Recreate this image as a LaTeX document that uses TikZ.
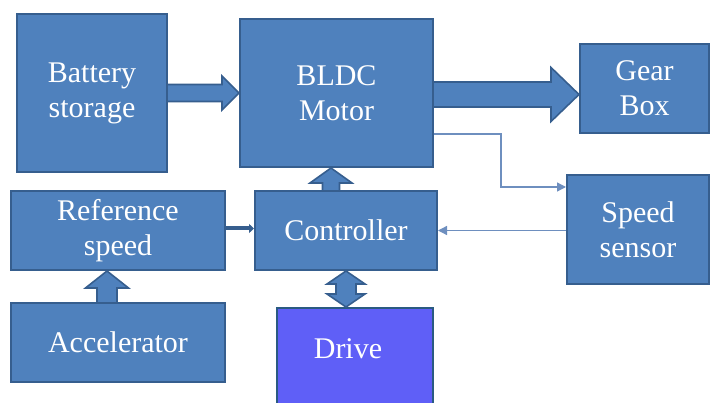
\documentclass[tikz,border=0pt]{standalone}
\usepackage{fontspec}
\setmainfont{Liberation Serif}
\usetikzlibrary{calc,arrows.meta}
\definecolor{boxfill}{HTML}{4F81BD}
\definecolor{boxline}{HTML}{365E8E}
\definecolor{drvfill}{HTML}{5F5FF7}
\definecolor{drvline}{HTML}{2A5A82}
\definecolor{thinline}{HTML}{6E8FBF}
\tikzset{
  box/.style={draw=boxline, fill=boxfill, line width=2pt, text=white, align=center,
    font=\fontsize{30}{35}\selectfont, inner sep=0pt},
  drivebox/.style={box, fill=drvfill, draw=drvline},
  txt/.style={text=white, font=\fontsize{30}{35}\selectfont, inner sep=0pt},
  barrow/.style={fill=boxfill, draw=boxline, line width=1.6pt, line join=miter},
  thinarrow/.style={draw=thinline, line width=1.3pt, -{Triangle[length=9pt,width=9pt]}},
  refarrow/.style={draw=boxline, line width=4pt, -{Triangle[length=5pt,width=9pt]}},
}
\begin{document}
\begin{tikzpicture}[x=1pt,y=-1pt]
\useasboundingbox (0,0) rectangle (713,403);
\clip (0,0) rectangle (713,403);
% boxes
\node[box, minimum width=150, minimum height=158] (bat) at (92,93) {Battery\\storage};
\node[box, minimum width=193, minimum height=148] (mot) at (336.5,93) {BLDC\\Motor};
\node[box, minimum width=129, minimum height=89] (gear) at (644.5,88.5) {Gear\\Box};
\node[box, minimum width=142, minimum height=109] (sen) at (638,229.5) {Speed\\sensor};
\node[box, minimum width=182, minimum height=79] (ctl) at (346,230.5) {Controller};
\node[box, minimum width=214, minimum height=79] (ref) at (118,230.5) {Reference\\speed};
\node[box, minimum width=214, minimum height=79] (acc) at (118,342.5) {Accelerator};
\node[drivebox, minimum width=156, minimum height=110] (drv) at (355,363) {};
\node[txt] (drvtext) at (348,349) {Drive};

% battery -> motor
\coordinate (s1) at (bat.east);
\coordinate (e1) at (bat.east -| mot.west);
\filldraw[barrow] ($(s1)+(0,-8.5)$) -- ($(e1)+(-17,-8.5)$) -- ($(e1)+(-17,-17)$) -- (e1)
  -- ($(e1)+(-17,17)$) -- ($(e1)+(-17,8.5)$) -- ($(s1)+(0,8.5)$);

% motor -> gear box
\coordinate (s2) at ($(mot.east)+(0,1.5)$);
\coordinate (e2) at (s2 -| gear.west);
\filldraw[barrow] ($(s2)+(0,-12.5)$) -- ($(e2)+(-28,-12.5)$) -- ($(e2)+(-28,-27)$) -- (e2)
  -- ($(e2)+(-28,27)$) -- ($(e2)+(-28,12.5)$) -- ($(s2)+(0,12.5)$);

% controller -> motor
\coordinate (s3) at ($(ctl.north)+(-15,0)$);
\coordinate (e3) at (s3 |- mot.south);
\filldraw[barrow] ($(s3)+(-8.5,0)$) -- ($(e3)+(-8.5,15)$) -- ($(e3)+(-21,15)$) -- (e3)
  -- ($(e3)+(21,15)$) -- ($(e3)+(8.5,15)$) -- ($(s3)+(8.5,0)$);

% accelerator -> reference speed
\coordinate (s4) at ($(acc.north)+(-11,0)$);
\coordinate (e4) at (s4 |- ref.south);
\filldraw[barrow] ($(s4)+(-10,0)$) -- ($(e4)+(-10,17)$) -- ($(e4)+(-21.5,17)$) -- (e4)
  -- ($(e4)+(21.5,17)$) -- ($(e4)+(10,17)$) -- ($(s4)+(10,0)$);

% controller <-> drive
\coordinate (s5) at (ctl.south);
\coordinate (e5) at (ctl.south |- drv.north);
\filldraw[barrow] (s5) -- ($(s5)+(19,13)$) -- ($(s5)+(10,13)$) -- ($(e5)+(10,-13)$)
  -- ($(e5)+(19,-13)$) -- (e5) -- ($(e5)+(-19,-13)$) -- ($(e5)+(-10,-13)$)
  -- ($(s5)+(-10,13)$) -- ($(s5)+(-19,13)$) -- cycle;

% reference speed -> controller
\draw[refarrow] ($(ref.east)+(0,-2)$) -- ($(ctl.west)+(0,-2)$);

% motor -> speed sensor (thin)
\coordinate (m1) at ($(mot.south east)+(0,-34)$);
\coordinate (sn1) at ($(sen.north west)+(0,13)$);
\draw[thinarrow] (m1) -- ($(m1)+(67,0)$) |- (sn1);

% speed sensor -> controller (thin)
\draw[thinarrow] (sen.west |- ctl.east) -- (ctl.east);
\end{tikzpicture}
\end{document}
